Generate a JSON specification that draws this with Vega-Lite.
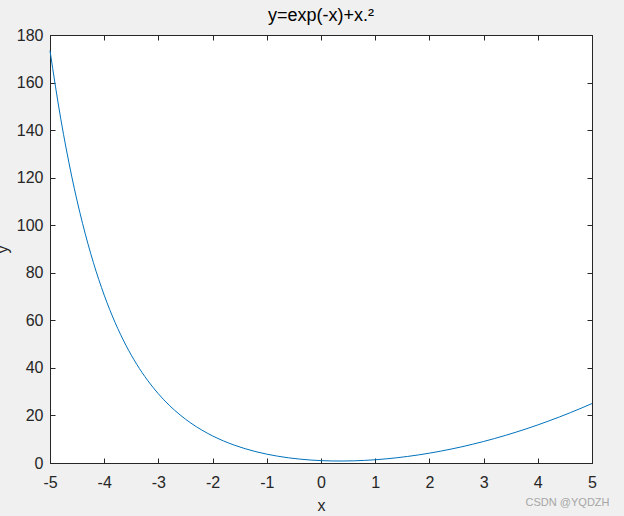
{
  "$schema": "https://vega.github.io/schema/vega-lite/v6.json",
  "width": 542,
  "height": 428,
  "autosize": {"type": "none"},
  "padding": {"left": 50, "top": 35, "right": 32, "bottom": 53},
  "background": "#f0f0f0",
  "view": {"fill": "white", "stroke": "#262626", "strokeWidth": 1},
  "title": {"text": "y=exp(-x)+x.²", "fontSize": 18, "fontWeight": "normal", "font": "Liberation Sans", "color": "#000000", "offset": 2},
  "config": {
    "axis": {"grid": false, "domainColor": "#262626", "tickColor": "#262626", "labelColor": "#262626", "titleColor": "#262626", "labelFont": "Liberation Sans", "titleFont": "Liberation Sans", "labelFontSize": 16, "titleFontSize": 16, "titleFontWeight": "normal", "tickSize": -5, "labelFlush": false, "labelOverlap": false, "labelExpr": "'' + datum.value"}
  },
  "data": {"values": [
    {"x": -5.0, "y": 173.413}, {"x": -4.8, "y": 144.550}, {"x": -4.6, "y": 120.644}, {"x": -4.4, "y": 100.811},
    {"x": -4.2, "y": 84.326}, {"x": -4.0, "y": 70.598}, {"x": -3.8, "y": 59.141}, {"x": -3.6, "y": 49.558},
    {"x": -3.4, "y": 41.524}, {"x": -3.2, "y": 34.773}, {"x": -3.0, "y": 29.086}, {"x": -2.8, "y": 24.285},
    {"x": -2.6, "y": 20.224}, {"x": -2.4, "y": 16.783}, {"x": -2.2, "y": 13.865}, {"x": -2.0, "y": 11.389},
    {"x": -1.8, "y": 9.290}, {"x": -1.6, "y": 7.513}, {"x": -1.4, "y": 6.015}, {"x": -1.2, "y": 4.760},
    {"x": -1.0, "y": 3.718}, {"x": -0.8, "y": 2.866}, {"x": -0.6, "y": 2.182}, {"x": -0.4, "y": 1.652},
    {"x": -0.2, "y": 1.261}, {"x": 0.0, "y": 1.000}, {"x": 0.2, "y": 0.859}, {"x": 0.4, "y": 0.830},
    {"x": 0.6, "y": 0.909}, {"x": 0.8, "y": 1.089}, {"x": 1.0, "y": 1.368}, {"x": 1.2, "y": 1.741},
    {"x": 1.4, "y": 2.207}, {"x": 1.6, "y": 2.762}, {"x": 1.8, "y": 3.405}, {"x": 2.0, "y": 4.135},
    {"x": 2.2, "y": 4.951}, {"x": 2.4, "y": 5.851}, {"x": 2.6, "y": 6.834}, {"x": 2.8, "y": 7.901},
    {"x": 3.0, "y": 9.050}, {"x": 3.2, "y": 10.281}, {"x": 3.4, "y": 11.593}, {"x": 3.6, "y": 12.987},
    {"x": 3.8, "y": 14.462}, {"x": 4.0, "y": 16.018}, {"x": 4.2, "y": 17.655}, {"x": 4.4, "y": 19.372},
    {"x": 4.6, "y": 21.170}, {"x": 4.8, "y": 23.048}, {"x": 5.0, "y": 25.007}
  ]},
  "layer": [
    {
      "mark": {"type": "line", "color": "#0072bd", "strokeWidth": 1, "interpolate": "monotone"},
      "encoding": {
        "x": {"field": "x", "type": "quantitative", "scale": {"domain": [-5, 5], "nice": false},
          "axis": {"orient": "bottom", "values": [-5, -4, -3, -2, -1, 0, 1, 2, 3, 4, 5], "labelPadding": 16, "title": "x", "titlePadding": 7}},
        "y": {"field": "y", "type": "quantitative", "scale": {"domain": [0, 180], "nice": false},
          "axis": {"orient": "left", "values": [0, 20, 40, 60, 80, 100, 120, 140, 160, 180], "labelPadding": 12, "title": "y", "titleX": -40, "titleBaseline": "bottom"}}
      }
    },
    {
      "mark": {"type": "line", "opacity": 0},
      "encoding": {
        "x": {"field": "x", "type": "quantitative",
          "axis": {"orient": "top", "values": [-5, -4, -3, -2, -1, 0, 1, 2, 3, 4, 5], "labels": false, "title": null}},
        "y": {"field": "y", "type": "quantitative",
          "axis": {"orient": "right", "values": [0, 20, 40, 60, 80, 100, 120, 140, 160, 180], "labels": false, "title": "CSDN @YQDZH", "titleAngle": 0, "titleX": 17, "titleY": 470, "titleAlign": "right", "titleBaseline": "alphabetic", "titleFontSize": 11, "titleColor": "#a6a6a6", "titleFont": "Liberation Sans"}}
      }
    }
  ],
  "resolve": {"axis": {"x": "independent", "y": "independent"}}
}
